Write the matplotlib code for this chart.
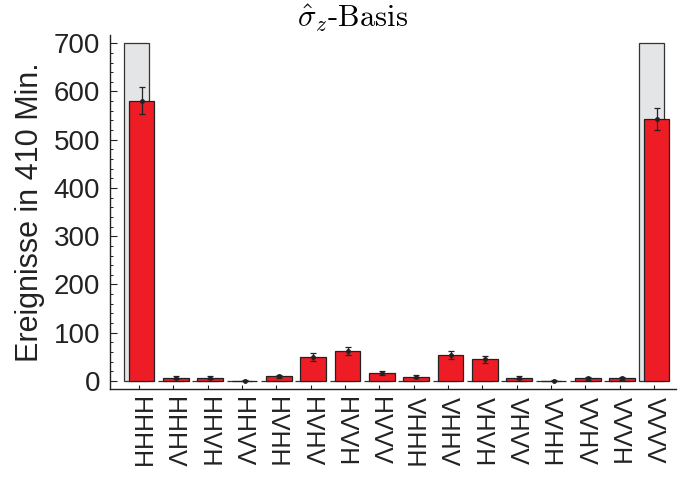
import matplotlib.pyplot as plt
import numpy as np

plt.rcParams['mathtext.fontset'] = 'cm'

# measurement bases, binary order H/V
labels = ['HHHH', 'HHHV', 'HHVH', 'HHVV', 'HVHH', 'HVHV', 'HVVH', 'HVVV',
          'VHHH', 'VHHV', 'VHVH', 'VHVV', 'VVHH', 'VVHV', 'VVVH', 'VVVV']
counts = [581, 7, 7, 1, 10, 50, 62, 16, 9, 54, 45, 7, 1, 6, 6, 543]
errors = [28, 3, 3, 1, 3, 8, 9, 4, 3, 8, 7, 3, 1, 3, 3, 22]
# grey reference bars (expected)
expected = [700, 0, 0, 0, 0, 0, 0, 0, 0, 0, 0, 0, 0, 0, 0, 700]


def plot():
    fig = plt.figure(figsize=(6.78, 4.79), dpi=100)
    ax = fig.add_axes([0.1622, 0.1879, 0.835, 0.739])

    x = np.arange(1, len(labels) + 1)
    ax.bar(x - 0.08, expected, width=0.75, color='#e4e5e7',
           edgecolor='#333333', linewidth=0.9, zorder=1)
    ax.bar(x + 0.07, counts, width=0.75, color='#ee1c25',
           edgecolor='#222222', linewidth=0.9, zorder=2)
    ax.errorbar(x + 0.07, counts, yerr=errors, fmt='o', color='#222222',
                markersize=2.5, elinewidth=0.9, capsize=2.2, capthick=0.9,
                zorder=3)

    ax.set_xlim(0.15, 16.64)
    ax.set_ylim(-16.6, 717)
    ax.set_yticks(np.arange(0, 701, 100))
    ax.set_yticks(np.arange(0, 701, 20), minor=True)
    ax.set_xticks(x)
    ax.set_xticklabels(labels, rotation=270, fontsize=18,
                       fontfamily='Liberation Sans')
    for t in ax.get_yticklabels():
        t.set_fontfamily('Liberation Sans')
        t.set_fontsize(20)
    ax.tick_params(axis='y', which='major', direction='in', length=5,
                   width=0.8, pad=7, colors='#222222')
    ax.tick_params(axis='y', which='minor', direction='in', length=2.5,
                   width=0.6)
    ax.tick_params(axis='x', direction='in', length=3, width=0.8, pad=6,
                   colors='#222222')

    for side in ['top', 'right']:
        ax.spines[side].set_visible(False)
    for side in ['left', 'bottom']:
        ax.spines[side].set_linewidth(1.0)
        ax.spines[side].set_color('#222222')

    ax.set_ylabel('Ereignisse in 410 Min.', fontsize=22,
                  fontfamily='Liberation Sans', color='#222222', labelpad=6)

    fig.text(353 / 678, 0.995, r'$\hat{\sigma}_z$-Basis', ha='center',
             va='top', fontsize=22, fontfamily='cmr10')

    fig.savefig('out.png', dpi=100)


if __name__ == '__main__':
    plot()
